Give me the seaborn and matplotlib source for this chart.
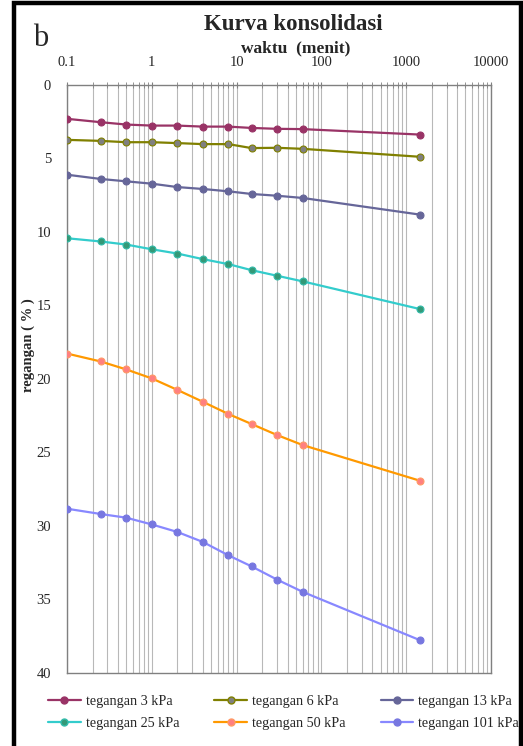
import matplotlib
matplotlib.use("Agg")
import matplotlib.pyplot as plt
from matplotlib.lines import Line2D
from matplotlib.patches import Rectangle
from matplotlib.ticker import LogLocator, FixedLocator, FixedFormatter, NullFormatter
import seaborn as sns
import numpy as np

# elapsed time of each reading (minutes)
waktu = [0.1, 0.25, 0.5, 1, 2, 4, 8, 15, 30, 60, 1440]

# strain (%) per load step
regangan_3 = [2.32, 2.55, 2.71, 2.78, 2.78, 2.85, 2.85, 2.94, 3.00, 3.02, 3.39]
regangan_6 = [3.75, 3.82, 3.91, 3.91, 3.97, 4.04, 4.04, 4.31, 4.29, 4.36, 4.90]
regangan_13 = [6.12, 6.41, 6.57, 6.73, 6.96, 7.09, 7.25, 7.43, 7.55, 7.70, 8.83]
regangan_25 = [10.44, 10.66, 10.87, 11.19, 11.48, 11.86, 12.20, 12.61, 12.99, 13.37, 15.25]
regangan_50 = [18.28, 18.82, 19.36, 19.97, 20.75, 21.56, 22.39, 23.07, 23.82, 24.50, 26.92]
regangan_101 = [28.83, 29.19, 29.44, 29.90, 30.41, 31.09, 32.00, 32.75, 33.65, 34.48, 37.76]

labels = ["tegangan 3 kPa", "tegangan 6 kPa", "tegangan 13 kPa",
          "tegangan 25 kPa", "tegangan 50 kPa", "tegangan 101 kPa"]
series = [regangan_3, regangan_6, regangan_13, regangan_25, regangan_50, regangan_101]
line_colors = ["#993366", "#808000", "#666699", "#33CCCC", "#FF9900", "#8888FF"]
face_colors = ["#993366", "#808080", "#666699", "#339977", "#FF8080", "#7777E0"]
edge_colors = ["#993366", "#808000", "#666699", "#33BBAA", "#FF9966", "#7777E0"]

x_ticks = [0.1, 1, 10, 100, 1000, 10000]
x_ticklabels = ["0.1", "1", "10", "100", "1000", "10000"]
y_ticks = [0, 5, 10, 15, 20, 25, 30, 35, 40]

sns.set_style("white")
plt.rcParams["font.family"] = ["Liberation Serif", "DejaVu Serif"]

W, H = 523, 746
fig = plt.figure(figsize=(W / 100, H / 100), dpi=100)
ax_l, ax_r, ax_t, ax_b = 67, 491, 84.7, 673
ax = fig.add_axes([ax_l / W, 1 - ax_b / H, (ax_r - ax_l) / W, (ax_b - ax_t) / H])

for vals, lab, lc, fc, ec in zip(series, labels, line_colors, face_colors, edge_colors):
    sns.lineplot(x=waktu, y=vals, ax=ax, color=lc, linewidth=1.6, marker="o",
                 markersize=5, markerfacecolor=fc, markeredgecolor=ec,
                 markeredgewidth=0.8, label=lab, legend=False, zorder=3)

ax.set_xscale("log")
ax.set_xlim(0.1, 10000)
ax.set_ylim(40, 0)

# vertical grid on every decade subdivision
ax.xaxis.set_major_locator(FixedLocator(x_ticks))
ax.xaxis.set_major_formatter(FixedFormatter(x_ticklabels))
ax.xaxis.set_minor_locator(LogLocator(base=10, subs=np.arange(2, 10)))
ax.xaxis.set_minor_formatter(NullFormatter())
ax.grid(True, axis="x", which="both", color="#b8b8b8", linewidth=0.8)
ax.grid(False, axis="y")
ax.xaxis.tick_top()
ax.xaxis.set_label_position("top")
ax.tick_params(axis="x", which="both", direction="inout", length=5, color="#808080",
               labelsize=10.5, pad=9, top=True, bottom=False)
ax.set_yticks(y_ticks)
ax.tick_params(axis="y", direction="inout", length=5, color="#808080", labelsize=10.5, pad=9)

for sp in ax.spines.values():
    sp.set_color("#808080")
    sp.set_linewidth(1.0)

ax.set_xlabel("waktu  (menit)", fontsize=12.5, fontweight="bold")
ax.xaxis.set_label_coords((296 - ax_l) / (ax_r - ax_l), (ax_b - 52) / (ax_b - ax_t))
ax.set_ylabel("regangan ( % )", fontsize=10.5, fontweight="bold")
ax.yaxis.set_label_coords((35 - ax_l) / (ax_r - ax_l), (ax_b - 345) / (ax_b - ax_t))

fig.text(293 / W, 1 - 24 / H, "Kurva konsolidasi", ha="center", va="center",
         fontsize=16.5, fontweight="bold")
fig.text(33 / W, 1 - 39 / H, "b", ha="left", va="center", fontsize=22)

handles = [Line2D([], [], color=lc, linewidth=1.6, marker="o", markersize=5,
                  markerfacecolor=fc, markeredgecolor=ec)
           for lc, fc, ec in zip(line_colors, face_colors, edge_colors)]
order = [0, 3, 1, 4, 2, 5]  # fill the legend row by row
fig.legend([handles[i] for i in order], [labels[i] for i in order],
           loc="upper left", bbox_to_anchor=(48 / W, 1 - 695 / H),
           ncol=3, frameon=False, fontsize=10.2, handlelength=2.3, handletextpad=0.35,
           columnspacing=2.5, labelspacing=0.6, borderaxespad=0, borderpad=0)

# black frame around the figure
fig.patches.append(Rectangle((14 / W, -0.05), (521 - 14) / W, 1.05 - 3.5 / H,
                             transform=fig.transFigure, fill=False,
                             edgecolor="black", linewidth=3.2, zorder=10))

fig.savefig("out.png", dpi=100)
